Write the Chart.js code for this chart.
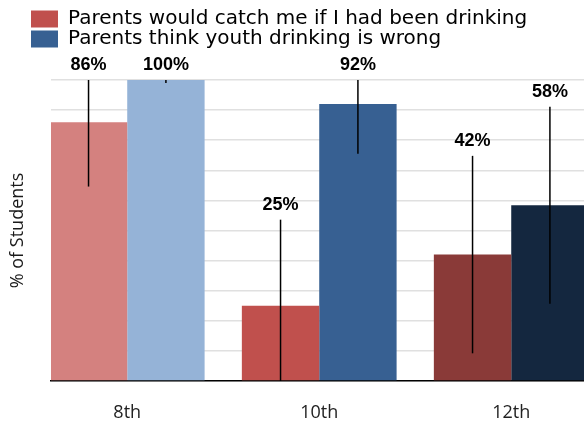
<!DOCTYPE html>
<html>
<head>
<meta charset="utf-8">
<script src="https://cdn.jsdelivr.net/npm/chart.js@4.4.1/dist/chart.umd.min.js"></script>
<style>
  html, body { margin: 0; padding: 0; background: #fff; overflow: hidden; }
  #wrap { position: relative; width: 584px; height: 423px; }
</style>
</head>
<body>
<div id="wrap"><canvas id="myChart"></canvas></div>
<script>
// Survey data
const grades = ['8th', '10th', '12th'];
const seriesNames = ['Parents would catch me if I had been drinking', 'Parents think youth drinking is wrong'];
const catchValues = [86, 25, 42];
const wrongValues = [100, 92, 58.4];
const catchErrors = [21.4, 28.6, 32.8];
const wrongErrors = [1, 16.5, 32.7];

const catchColors = ['#d4817f', '#c0504d', '#8a3a38'];
const wrongColors = ['#95b3d7', '#376092', '#14273f'];
const legendColors = ['#c0504d', '#376092'];

const toPoints = values => values.map((v, i) => ({ x: i, y: v }));

// error bars + value labels
const errorBars = {
  id: 'errorBars',
  afterDatasetsDraw(chart) {
    const ctx = chart.ctx;
    const yScale = chart.scales.y;
    chart.data.datasets.forEach((ds, i) => {
      chart.getDatasetMeta(i).data.forEach((bar, j) => {
        const v = ds.data[j].y;
        const e = ds.errors[j];
        const top = yScale.getPixelForValue(Math.min(100, v + e));
        const bottom = yScale.getPixelForValue(Math.max(0, v - e));
        ctx.save();
        ctx.strokeStyle = '#000';
        ctx.lineWidth = 1.5;
        ctx.beginPath();
        ctx.moveTo(bar.x, top);
        ctx.lineTo(bar.x, bottom);
        ctx.stroke();
        ctx.font = 'bold 18px "Liberation Sans", Arial, sans-serif';
        ctx.fillStyle = '#000';
        ctx.textAlign = 'center';
        ctx.textBaseline = 'alphabetic';
        ctx.fillText(Math.round(v) + '%', bar.x, top - 10);
        ctx.restore();
      });
    });
  }
};

const ctx = document.getElementById('myChart');

const myChart = new Chart(ctx, {
  type: 'bar',
  data: {
    datasets: [{
      label: seriesNames[0],
      data: toPoints(catchValues),
      errors: catchErrors,
      backgroundColor: catchColors,
      borderWidth: 0
    }, {
      label: seriesNames[1],
      data: toPoints(wrongValues),
      errors: wrongErrors,
      backgroundColor: wrongColors,
      borderWidth: 0
    }]
  },
  options: {
    responsive: true,
    maintainAspectRatio: false,
    animation: false,
    categoryPercentage: 0.806,
    barPercentage: 1,
    layout: { padding: { left: 31, top: 9, right: 0, bottom: 0 } },
    plugins: {
      tooltip: { enabled: false },
      legend: {
        display: true,
        position: 'top',
        align: 'start',
        labels: {
          boxWidth: 27,
          boxHeight: 17,
          padding: 0,
          color: '#000',
          font: { family: '"DejaVu Sans"', size: 20 },
          generateLabels: chart => chart.data.datasets.map((ds, i) => ({
            text: ds.label,
            fillStyle: legendColors[i],
            strokeStyle: legendColors[i],
            lineWidth: 0,
            hidden: false,
            datasetIndex: i,
            fontColor: '#000'
          }))
        }
      }
    },
    scales: {
      x: {
        type: 'linear',
        offset: false,
        min: -0.397,
        max: 2.379,
        grid: { display: false, drawTicks: false, offset: false },
        border: { color: '#000', width: 1.5 },
        afterBuildTicks: s => { s.ticks = grades.map((g, i) => ({ value: i })); },
        ticks: {
          callback: v => grades[v],
          font: { family: '"Open Sans"', size: 18 },
          color: '#222',
          padding: 21,
          maxRotation: 0,
          autoSkip: false
        },
        afterFit: s => { s.height = 42; }
      },
      spacer: {
        type: 'linear',
        position: 'top',
        grid: { display: false },
        ticks: { display: false },
        border: { display: false },
        afterFit: s => { s.height = 21; }
      },
      y: {
        min: 0,
        max: 100,
        ticks: { display: false, stepSize: 10 },
        grid: { color: '#e0e0e0', lineWidth: 1.5, drawTicks: false },
        border: { display: false },
        title: {
          display: true,
          text: '% of Students',
          color: '#1a1a1a',
          font: { family: '"Open Sans"', size: 18 },
          padding: { top: -24, bottom: 0 }
        },
        afterFit: s => { s.width = 20; }
      }
    }
  },
  plugins: [errorBars]
});
</script>
</body>
</html>
